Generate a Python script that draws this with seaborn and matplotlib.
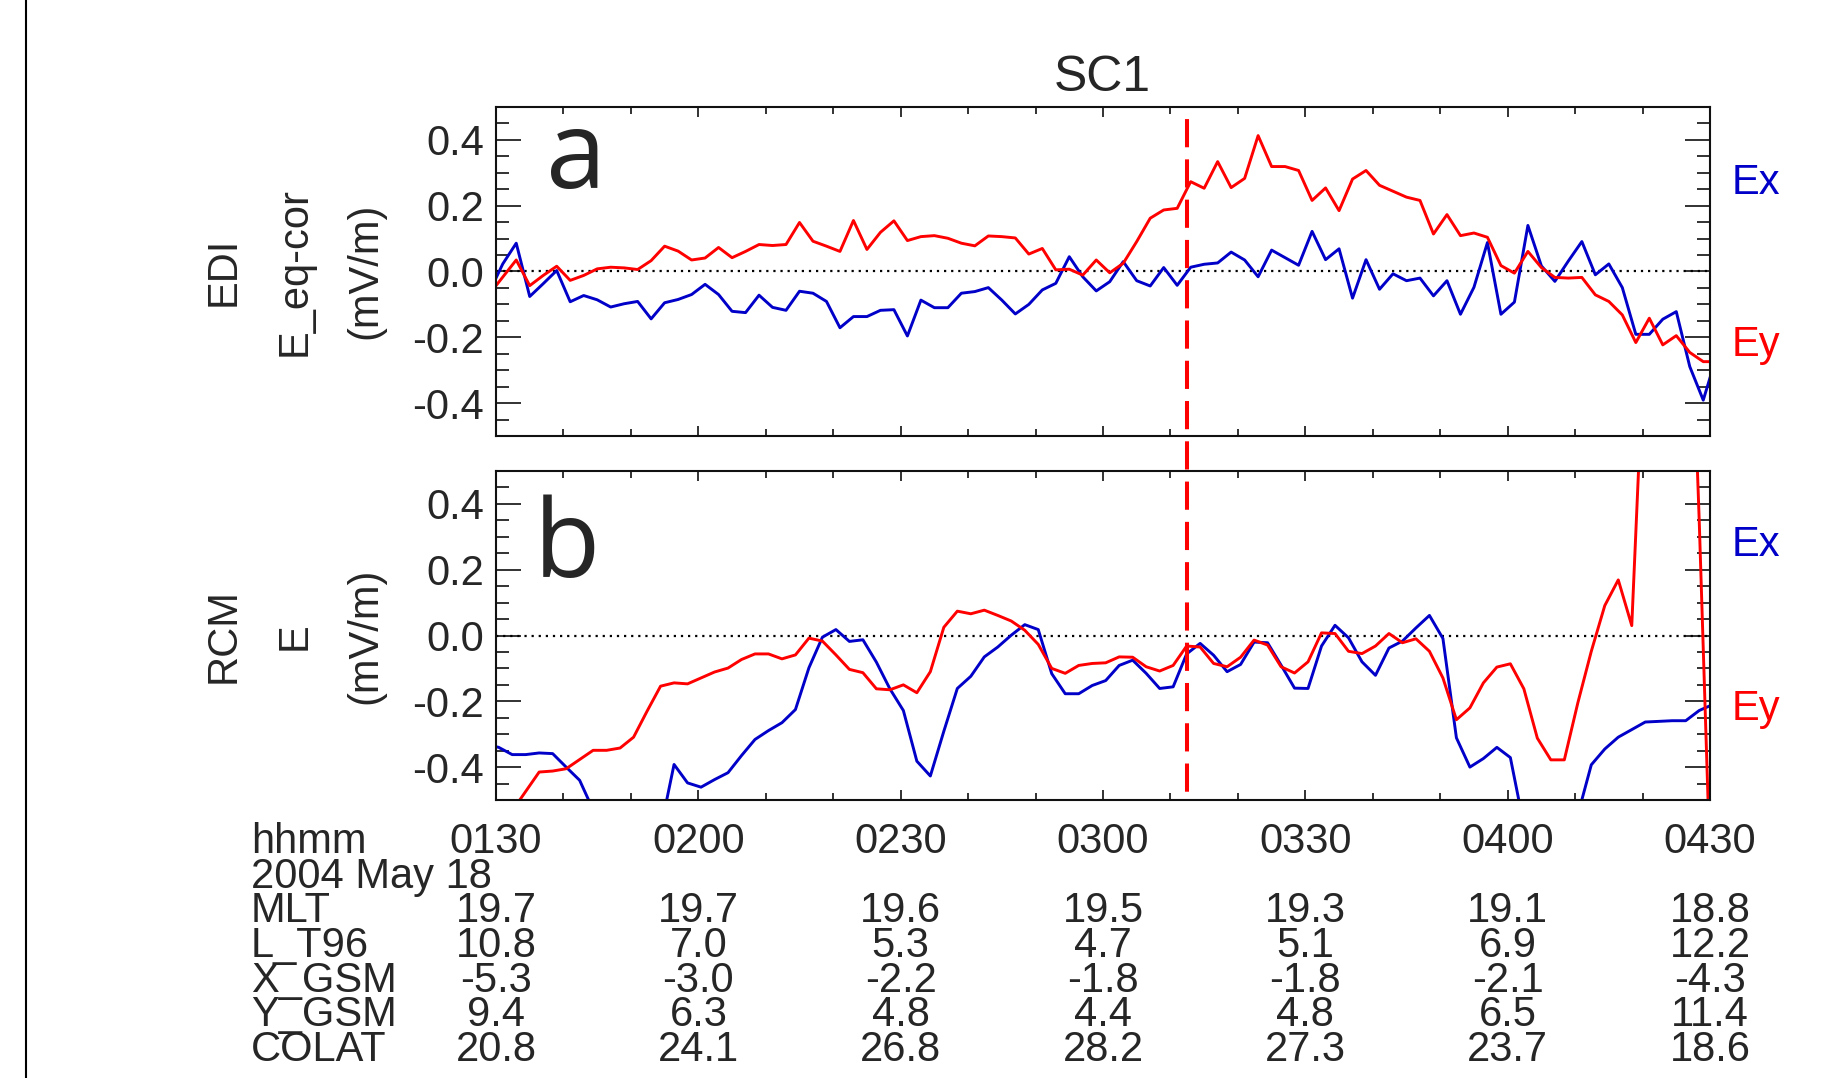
import numpy as np
import pandas as pd
import matplotlib
matplotlib.use('Agg')
import matplotlib.pyplot as plt
import matplotlib.transforms as mtransforms
from matplotlib.lines import Line2D
from matplotlib.ticker import MultipleLocator, FixedLocator
import seaborn as sns

# ------------------------------------------------------------
# data (minutes after 01:30 UT, 2004 May 18, SC1)
# ------------------------------------------------------------
t_edi = np.arange(-1, 182, 2)        # EDI samples, odd minutes
t_rcm = np.arange(-1.6, 181, 2)      # RCM samples

edi_ex = [-0.063, 0.023, 0.086, -0.076, -0.037, 0.003, -0.092, -0.073, -0.086, -0.108,
          -0.098, -0.091, -0.144, -0.095, -0.085, -0.070, -0.039, -0.070, -0.121, -0.125,
          -0.072, -0.109, -0.118, -0.060, -0.066, -0.091, -0.171, -0.137, -0.137, -0.118,
          -0.116, -0.196, -0.087, -0.110, -0.110, -0.066, -0.061, -0.049, -0.087, -0.129,
          -0.100, -0.056, -0.036, 0.045, -0.016, -0.059, -0.031, 0.030, -0.028, -0.044,
          0.012, -0.042, 0.013, 0.022, 0.026, 0.059, 0.035, -0.016, 0.065, 0.042,
          0.019, 0.122, 0.036, 0.069, -0.081, 0.036, -0.054, -0.007, -0.028, -0.020,
          -0.074, -0.028, -0.130, -0.048, 0.088, -0.130, -0.093, 0.140, 0.017, -0.030,
          0.032, 0.091, -0.010, 0.023, -0.049, -0.191, -0.191, -0.145, -0.122, -0.289,
          -0.391, -0.255]
edi_ey = [-0.069, -0.017, 0.035, -0.043, -0.012, 0.016, -0.027, -0.012, 0.008, 0.013,
          0.011, 0.006, 0.033, 0.077, 0.062, 0.035, 0.041, 0.073, 0.042, 0.061,
          0.082, 0.079, 0.082, 0.149, 0.092, 0.077, 0.061, 0.155, 0.067, 0.119,
          0.154, 0.094, 0.106, 0.109, 0.101, 0.086, 0.078, 0.108, 0.106, 0.102,
          0.053, 0.070, 0.005, 0.007, -0.011, 0.035, -0.004, 0.025, 0.091, 0.162,
          0.187, 0.192, 0.273, 0.253, 0.334, 0.255, 0.283, 0.413, 0.319, 0.319,
          0.307, 0.216, 0.254, 0.185, 0.281, 0.307, 0.262, 0.244, 0.226, 0.216,
          0.114, 0.173, 0.109, 0.117, 0.104, 0.018, -0.005, 0.061, 0.012, -0.018,
          -0.020, -0.018, -0.071, -0.091, -0.132, -0.216, -0.142, -0.223, -0.195, -0.246,
          -0.274, -0.274]

rcm_ex = [-0.33, -0.34, -0.362, -0.362, -0.357, -0.359, -0.400, -0.440, -0.53, -0.60,
          -0.65, -0.65, -0.62, -0.59, -0.392, -0.448, -0.461, -0.438, -0.417, -0.365,
          -0.316, -0.289, -0.265, -0.225, -0.098, -0.005, 0.018, -0.018, -0.013, -0.081,
          -0.162, -0.228, -0.382, -0.427, -0.291, -0.161, -0.124, -0.065, -0.035, 0.001,
          0.033, 0.018, -0.116, -0.177, -0.177, -0.152, -0.137, -0.091, -0.075, -0.115,
          -0.161, -0.156, -0.056, -0.024, -0.060, -0.110, -0.088, -0.020, -0.022, -0.090,
          -0.160, -0.161, -0.032, 0.031, -0.007, -0.080, -0.121, -0.038, -0.017, 0.023,
          0.061, -0.009, -0.311, -0.400, -0.374, -0.340, -0.371, -0.577, -0.66, -0.68,
          -0.62, -0.545, -0.393, -0.345, -0.309, -0.286, -0.263, -0.261, -0.259, -0.259,
          -0.228, -0.21]
rcm_ey = [-0.65, -0.59, -0.533, -0.474, -0.415, -0.412, -0.405, -0.377, -0.349, -0.349,
          -0.342, -0.309, -0.230, -0.154, -0.144, -0.147, -0.129, -0.111, -0.099, -0.073,
          -0.056, -0.056, -0.071, -0.059, -0.008, -0.017, -0.059, -0.103, -0.113, -0.162,
          -0.165, -0.150, -0.174, -0.110, 0.025, 0.074, 0.066, 0.077, 0.061, 0.044,
          0.016, -0.027, -0.100, -0.115, -0.091, -0.085, -0.083, -0.065, -0.066, -0.095,
          -0.108, -0.091, -0.032, -0.035, -0.085, -0.095, -0.066, -0.014, -0.029, -0.095,
          -0.114, -0.080, 0.008, 0.006, -0.048, -0.055, -0.032, 0.006, -0.022, -0.010,
          -0.048, -0.129, -0.256, -0.220, -0.144, -0.096, -0.086, -0.162, -0.312, -0.378,
          -0.378, -0.205, -0.048, 0.091, 0.169, 0.030, 0.97, 1.2, 1.4, 1.5,
          0.35, -0.95]

t_marker = 102.5    # red dashed line, ~03:12:30

# orbit table under the plots
tick_times = [0, 30, 60, 90, 120, 150, 180]
hhmm = ['0130', '0200', '0230', '0300', '0330', '0400', '0430']
date_label = '2004 May 18'
mlt = ['19.7', '19.7', '19.6', '19.5', '19.3', '19.1', '18.8']
l_t96 = ['10.8', '7.0', '5.3', '4.7', '5.1', '6.9', '12.2']
x_gsm = ['-5.3', '-3.0', '-2.2', '-1.8', '-1.8', '-2.1', '-4.3']
y_gsm = ['9.4', '6.3', '4.8', '4.4', '4.8', '6.5', '11.4']
colat = ['20.8', '24.1', '26.8', '28.2', '27.3', '23.7', '18.6']

BLUE = '#0000C8'
RED = '#FF0000'

sns.set_style('ticks')
plt.rcParams['font.family'] = ['Liberation Sans', 'DejaVu Sans']
plt.rcParams['axes.unicode_minus'] = False

W, H = 1848, 1078


def fx(px):
    return px / W


def fy(py):
    return 1 - py / H


fig = plt.figure(figsize=(W / 100, H / 100), dpi=100)
fig.patch.set_facecolor('white')

ax_a = fig.add_axes([fx(496), fy(436), fx(1710) - fx(496), (436 - 107) / H])
ax_b = fig.add_axes([fx(496), fy(800), fx(1710) - fx(496), (800 - 471) / H])


def draw_panel(ax, t, ex, ey):
    df = pd.concat([
        pd.DataFrame({'t': t, 'E': ex, 'comp': 'Ex'}),
        pd.DataFrame({'t': t, 'E': ey, 'comp': 'Ey'}),
    ], ignore_index=True)
    ax.axhline(0, color='black', lw=1.6, ls=(0, (1, 2.2)), zorder=1)
    sns.lineplot(data=df, x='t', y='E', hue='comp',
                 palette={'Ex': BLUE, 'Ey': RED}, hue_order=['Ex', 'Ey'],
                 estimator=None, sort=False, lw=2.1, legend=False, ax=ax)

    ax.set_xlim(0, 180)
    ax.set_ylim(-0.5, 0.5)
    ax.set_xlabel('')
    ax.set_ylabel('')
    ax.xaxis.set_major_locator(MultipleLocator(30))
    ax.xaxis.set_minor_locator(MultipleLocator(10))
    ax.yaxis.set_major_locator(FixedLocator([-0.4, -0.2, 0.0, 0.2, 0.4]))
    ax.set_yticklabels(['-0.4', '-0.2', '0.0', '0.2', '0.4'])
    ax.yaxis.set_minor_locator(MultipleLocator(0.05))
    ax.tick_params(axis='both', which='both', direction='in',
                   top=True, right=True, labelbottom=False, color='#222222')
    ax.tick_params(axis='y', which='major', length=18, width=1.3,
                   labelsize=30, pad=8.5)
    ax.tick_params(axis='y', which='minor', length=9.4, width=1.3)
    ax.tick_params(axis='x', which='major', length=7, width=1.3)
    ax.tick_params(axis='x', which='minor', length=5, width=1.3)
    for s in ax.spines.values():
        s.set_visible(True)
        s.set_linewidth(1.5)
        s.set_color('#111111')


draw_panel(ax_a, t_edi, edi_ex, edi_ey)
draw_panel(ax_b, t_rcm, rcm_ex, rcm_ey)

# title and panel letters
fig.text(fx(1102), fy(91), 'SC1', ha='center', va='baseline', fontsize=36)
fig.text(fx(546), fy(188), 'a', ha='left', va='baseline', fontsize=78,
         family=['Open Sans', 'DejaVu Sans'])
fig.text(fx(534), fy(577), 'b', ha='left', va='baseline', fontsize=78,
         family=['Open Sans', 'DejaVu Sans'])

# component labels on the right
for yb, txt, col in [(194, 'Ex', BLUE), (356, 'Ey', RED),
                     (556, 'Ex', BLUE), (720, 'Ey', RED)]:
    fig.text(fx(1732), fy(yb), txt, color=col, fontsize=30,
             ha='left', va='baseline')

# y labels (three lines each)
for yc, labels in [(271, ['EDI', 'E_eq-cor', '(mV/m)']),
                   (636, ['RCM', 'E', '(mV/m)'])]:
    for xc, lab in zip([224, 295, 365], labels):
        fig.text(fx(xc), fy(yc), lab, rotation=90, ha='center',
                 va='center', fontsize=30)

# red dashed marker through both panels
trans_a = mtransforms.blended_transform_factory(ax_a.transData, fig.transFigure)
fig.add_artist(Line2D([t_marker, t_marker], [fy(107), fy(800)],
                      transform=trans_a, color=RED, lw=2.9,
                      ls=(7, (7, 3)), zorder=10))

# left frame line
fig.add_artist(Line2D([fx(26), fx(26)], [0, 1], transform=fig.transFigure,
                      color='black', lw=1.5))

# orbit table
trans_b = mtransforms.blended_transform_factory(ax_b.transData, fig.transFigure)
rows = [('hhmm', hhmm), (date_label, None), ('MLT', mlt), ('L_T96', l_t96),
        ('X_GSM', x_gsm), ('Y_GSM', y_gsm), ('COLAT', colat)]
base0, step = 853, 34.7
for i, (name, vals) in enumerate(rows):
    yb = fy(base0 + i * step)
    fig.text(fx(251), yb, name, ha='left', va='baseline', fontsize=30)
    if vals is None:
        continue
    for tt, v in zip(tick_times, vals):
        fig.text(tt, yb, v, transform=trans_b, ha='center',
                 va='baseline', fontsize=30)

fig.savefig('out.png', dpi=100)
